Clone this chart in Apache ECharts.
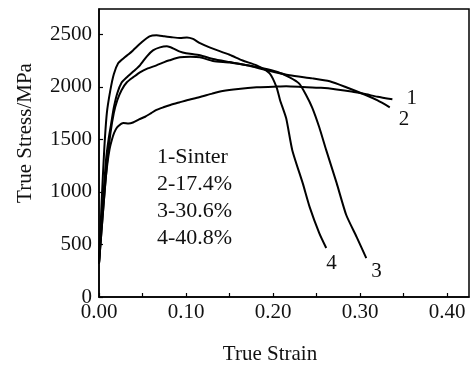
<!DOCTYPE html>
<html>
<head>
<meta charset="utf-8">
<script src="https://cdn.jsdelivr.net/npm/echarts@6/dist/echarts.min.js"></script>
<style>html,body{margin:0;padding:0;background:#fff}#c{width:471px;height:370px}</style>
</head>
<body>
<div id="c"></div>
<script>
const seriesNames = ['1-Sinter', '2-17.4%', '3-30.6%', '4-40.8%'];
const endTags = ['1', '2', '3', '4'];
const xTickLabels = ['0.00', '0.10', '0.20', '0.30', '0.40'];
const yTickLabels = ['0', '500', '1000', '1500', '2000', '2500'];

const curve1 = [[0,320],[0.004,750],[0.008,1150],[0.012,1400],[0.016,1530],[0.019,1590],[0.022,1625],[0.028,1655],[0.034,1650],[0.039,1660],[0.046,1690],[0.053,1715],[0.060,1750],[0.066,1780],[0.074,1805],[0.081,1825],[0.092,1850],[0.101,1872],[0.115,1900],[0.130,1935],[0.142,1960],[0.160,1980],[0.181,1995],[0.200,2000],[0.215,2005],[0.234,1998],[0.255,1990],[0.273,1975],[0.290,1955],[0.307,1928],[0.320,1905],[0.337,1881]];
const curve2 = [[0,320],[0.004,850],[0.008,1300],[0.011,1500],[0.014,1650],[0.017,1800],[0.021,1938],[0.026,2040],[0.032,2090],[0.040,2150],[0.047,2204],[0.055,2290],[0.062,2346],[0.070,2375],[0.078,2385],[0.085,2366],[0.093,2335],[0.100,2320],[0.116,2300],[0.131,2265],[0.150,2235],[0.170,2204],[0.193,2157],[0.219,2109],[0.245,2080],[0.265,2052],[0.284,1995],[0.307,1919],[0.320,1870],[0.334,1805]];
const curve3 = [[0,320],[0.005,850],[0.009,1250],[0.013,1550],[0.017,1750],[0.021,1872],[0.026,1970],[0.032,2043],[0.040,2095],[0.047,2138],[0.056,2175],[0.066,2204],[0.075,2235],[0.081,2252],[0.093,2280],[0.105,2285],[0.116,2280],[0.131,2245],[0.150,2230],[0.170,2204],[0.188,2176],[0.205,2140],[0.219,2090],[0.230,2030],[0.238,1920],[0.245,1800],[0.253,1615],[0.261,1397],[0.273,1083],[0.284,780],[0.296,570],[0.307,370]];
const curve4 = [[0,320],[0.003,900],[0.006,1400],[0.009,1750],[0.013,1966],[0.017,2120],[0.022,2223],[0.028,2270],[0.034,2310],[0.039,2346],[0.049,2423],[0.058,2480],[0.066,2490],[0.075,2480],[0.085,2470],[0.093,2465],[0.101,2470],[0.108,2455],[0.116,2415],[0.127,2375],[0.150,2305],[0.165,2250],[0.181,2204],[0.196,2128],[0.204,1995],[0.208,1872],[0.215,1700],[0.222,1397],[0.234,1083],[0.242,855],[0.253,608],[0.261,466]];

const curves = [curve1, curve2, curve3, curve4];
const tagOffsets = [[6,-1],[1,12],[-3,13],[-8,15]];

const FONT = "'Liberation Serif','Times New Roman',serif";
const chart = echarts.init(document.getElementById('c'), null, {renderer: 'canvas'});

chart.setOption({
  animation: false,
  backgroundColor: '#fff',
  grid: {left: 99, right: 2, top: 9, bottom: 73, show: true, borderColor: '#000', borderWidth: 1.5, backgroundColor: 'transparent'},
  xAxis: {
    type: 'value', min: 0, max: 0.425, interval: 0.05,
    name: 'True Strain', nameLocation: 'middle', nameGap: 47,
    nameTextStyle: {fontFamily: FONT, fontSize: 21, color: '#111', padding: [0, 28, 0, 0]},
    axisLine: {show: true, lineStyle: {color: '#000', width: 1.5}},
    axisTick: {show: true, inside: true, length: 4, lineStyle: {color: '#000', width: 1.2}},
    axisLabel: {
      fontFamily: FONT, fontSize: 21, color: '#111', margin: 5, showMaxLabel: false,
      formatter: v => { const i = Math.round(v / 0.1 * 1000) / 1000; return Number.isInteger(i) && i < xTickLabels.length ? xTickLabels[i] : ''; }
    },
    splitLine: {show: false}
  },
  yAxis: {
    type: 'value', min: 0, max: 2740, interval: 500,
    name: 'True Stress/MPa', nameLocation: 'middle', nameGap: 63,
    nameTextStyle: {fontFamily: FONT, fontSize: 21, color: '#111', padding: [0, 0, 0, 40]},
    axisLine: {show: true, lineStyle: {color: '#000', width: 1.5}},
    axisTick: {show: true, inside: true, length: 4, lineStyle: {color: '#000', width: 1.2}},
    axisLabel: {
      fontFamily: FONT, fontSize: 21, color: '#111', margin: 7, showMaxLabel: false,
      formatter: v => { const i = Math.round(v / 500); return i < yTickLabels.length ? yTickLabels[i] : ''; }
    },
    splitLine: {show: false}
  },
  graphic: seriesNames.map((t, i) => ({
    type: 'text', left: 157, top: 146 + i * 27,
    style: {text: t, font: '22px ' + FONT, fill: '#111'}
  })),
  series: curves.map((d, i) => ({
    type: 'line', name: seriesNames[i], data: d, showSymbol: false, smooth: 0.2,
    lineStyle: {color: '#000', width: 2},
    endLabel: {show: true, formatter: endTags[i], fontFamily: FONT, fontSize: 21, color: '#111', offset: tagOffsets[i]}
  }))
});
</script>
</body>
</html>
